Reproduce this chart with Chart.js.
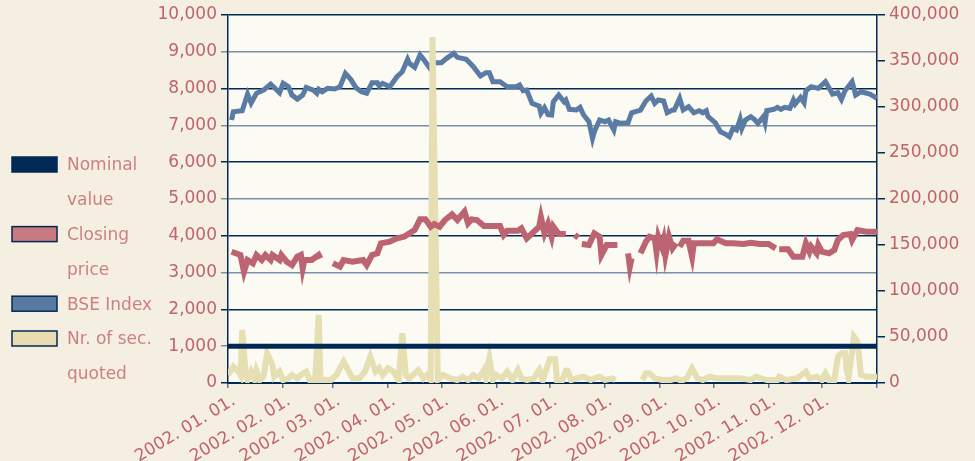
<!DOCTYPE html>
<html>
<head>
<meta charset="utf-8">
<script src="https://cdn.jsdelivr.net/npm/chart.js@4/dist/chart.umd.min.js"></script>
<style>
  html, body { margin: 0; padding: 0; background: #f5efe1; }
  #wrap { width: 975px; height: 461px; }
</style>
</head>
<body>
<div id="wrap"><canvas id="myChart" width="975" height="461"></canvas></div>
<script>
// x positions are day-of-year in 2002 (0 = Jan 1)
const monthStarts = [0, 31, 59, 90, 120, 151, 181, 212, 243, 273, 304, 334, 365];
const monthLabels = [
  "2002. 01. 01.", "2002. 02. 01.", "2002. 03. 01.", "2002. 04. 01.",
  "2002. 05. 01.", "2002. 06. 01.", "2002. 07. 01.", "2002. 08. 01.",
  "2002. 09. 01.", "2002. 10. 01.", "2002. 11. 01.", "2002. 12. 01.",
];

const legendLabels = [
  ["Nominal", "value"],
  ["Closing", "price"],
  ["BSE Index"],
  ["Nr. of sec.", "quoted"],
];

// Nominal value (left axis)
const nominalDays = [0, 365];
const nominalValues = [1000, 1000];

// BSE Index (left axis)
const bseDays = [2,3,8,11,13,16,20,24,29,31,
  34,36,39,42,44,48,50,51,53,56,
  60,63,66,69,72,75,78,81,84,85,
  87,91,95,98,101,102,105,108,110,114,
  115,120,123,127,129,134,138,142,145,147,
  149,153,157,162,164,166,168,171,175,176,
  178,180,182,183,186,189,190,192,196,198,
  200,203,205,206,209,212,214,217,218,221,
  225,227,232,235,238,240,242,245,247,250,
  251,254,256,259,262,265,267,269,270,274,
  277,280,282,284,286,288,289,291,294,296,
  298,301,302,303,307,309,311,313,316,318,
  319,322,324,325,328,332,336,340,343,345,
  347,351,353,356,361,365];
const bseValues = [7146,7372,7400,7852,7608,7871,7960,8124,7888,8143,
  8051,7825,7716,7825,8034,7960,7871,7980,7915,8007,
  7988,8051,8414,8251,8024,7915,7871,8160,8160,8070,
  8143,8051,8323,8458,8795,8686,8578,8912,8795,8523,
  8703,8703,8822,8958,8849,8795,8595,8341,8431,8431,
  8187,8187,8051,8051,8097,7942,7961,7599,7526,7328,
  7480,7290,7282,7644,7825,7644,7690,7437,7418,7491,
  7282,7100,6649,6828,7146,7100,7146,6874,7100,7056,
  7073,7344,7418,7662,7798,7599,7690,7662,7344,7418,
  7418,7735,7418,7508,7344,7400,7344,7400,7237,7073,
  6828,6757,6692,6920,6874,7164,6920,7146,7237,7164,
  7056,7237,7073,7400,7437,7491,7437,7491,7464,7690,
  7581,7762,7617,7942,8051,8007,8187,7852,7888,7708,
  7942,8187,7825,7915,7852,7735];

// Closing price (left axis), null = no trade
const closeDays = [2,7,9,11,14,16,19,21,24,25,
  29,30,33,36,39,41,42,43,47,51,
  52,55,59,63,65,70,76,78,81,84,
  86,91,95,99,102,105,108,111,114,116,
  119,122,126,129,133,135,137,140,144,153,
  155,157,163,165,168,172,175,176,178,180,
  182,183,186,190,192,195,197,198,199,203,
  206,209,210,213,219,222,225,226,227,229,
  232,235,237,240,241,242,244,245,246,248,
  250,252,253,254,256,259,261,262,267,273,
  275,280,284,290,294,299,304,308,309,310,
  315,318,323,325,327,328,331,332,334,338,
  341,343,346,350,351,354,359,365];
const closeValues = [3567,3478,3024,3342,3252,3478,3342,3478,3342,3478,
  3342,3478,3296,3206,3432,3478,3116,3342,3342,3478,
  3388,null,3252,3161,3342,3296,3342,3206,3478,3524,
  3796,3840,3931,3976,4066,4157,4448,4448,4248,4320,
  4248,4429,4584,4429,4655,4339,4448,4429,4266,4266,
  4021,4138,4138,4203,3931,4111,4248,4502,4066,4320,
  3976,4248,4048,4048,null,4030,3950,null,3777,3750,
  4066,3976,3478,3750,3750,null,3524,3161,3388,null,
  3524,3840,3976,3931,3567,3976,3704,3886,3478,3976,
  3660,3796,null,3704,3866,3866,3432,3796,3796,3796,
  3904,3796,3796,3777,3812,3777,3777,3660,null,3633,
  3633,3432,3432,3796,3567,3704,3524,3750,3567,3524,
  3614,3886,4021,4048,3886,4157,4111,4111];

// Nr. of securities quoted (right axis)
const quotedDays = [0,3,6,7,8,10,11,13,15,16,
  18,20,22,25,26,29,31,34,36,39,
  41,44,46,49,51,52,58,61,65,68,
  70,74,77,80,83,85,87,90,93,96,
  98,100,102,105,107,110,112,114,115,118,
  121,125,129,132,135,138,141,144,145,147,
  149,151,154,157,160,163,165,168,172,175,
  177,181,184,185,188,190,191,193,196,200,
  204,206,209,212,216,218,221,233,235,237,
  240,244,249,252,254,256,258,261,264,267,
  271,275,280,288,294,297,303,309,310,314,
  320,325,327,331,334,336,338,341,343,345,
  347,348,349,352,354,356,359,365];
const quotedValues = [8700,17700,12300,8700,57600,8700,3260,12300,3260,13400,
  3260,6800,32300,19600,6800,12300,3260,5100,8700,5100,
  8700,12300,3260,3260,73900,3260,3260,8700,23200,12300,
  5100,5100,12300,28600,12300,16000,8700,16000,12300,3260,
  54000,8700,5100,10500,14100,5100,8700,3260,376000,3260,
  8700,5100,3260,6800,3260,8700,5100,14100,5100,26800,
  3260,8700,5100,12300,3260,14100,5100,3260,5100,14100,
  3260,25800,25800,3260,3260,13400,13400,3260,5100,6800,
  3260,5100,6800,3260,5100,3260,null,3260,10500,10500,
  5100,3260,3260,5100,3260,3260,5100,16000,5100,3260,
  6800,5100,5100,5100,3260,6800,3260,3260,6800,3260,
  5100,12300,5100,6800,3260,10500,3260,3260,28600,32300,
  32300,14100,5100,50300,44900,8700,6800,6800];

const NAVY = "#002a55";
const GRID_LIGHT = "#7a90a8";
const TEXT = "#c0626f";

const pts = (days, vals) => days.map((d, i) => ({ x: d, y: vals[i] }));

// plot area background + custom left legend
const paper = {
  id: "paper",
  beforeDraw(chart) {
    const { ctx, chartArea: a } = chart;
    ctx.save();
    ctx.fillStyle = "#fbfaf3";
    ctx.fillRect(a.left, a.top, a.right - a.left, a.bottom - a.top);
    ctx.restore();
  },
  afterDraw(chart) {
    const ctx = chart.ctx;
    const boxes = [
      { fill: NAVY, border: NAVY },
      { fill: "#c87a80", border: NAVY },
      { fill: "#587aa0", border: NAVY },
      { fill: "#e8dcb0", border: NAVY },
    ];
    ctx.save();
    ctx.font = '17px "DejaVu Sans"';
    ctx.textBaseline = "middle";
    let line = 0;
    legendLabels.forEach((lines, i) => {
      const y = 166 + line * 34.8;
      ctx.fillStyle = boxes[i].fill;
      ctx.fillRect(12, y - 9, 45, 15);
      ctx.strokeStyle = boxes[i].border;
      ctx.lineWidth = 1.5;
      ctx.strokeRect(12, y - 9, 45, 15);
      ctx.fillStyle = "#cd7f85";
      lines.forEach((t, k) => ctx.fillText(t, 67, y + k * 34.8));
      line += lines.length;
    });
    ctx.restore();
  },
};

Chart.defaults.font.family = '"DejaVu Sans"';
Chart.defaults.font.size = 17;
Chart.defaults.color = TEXT;

const ctx = document.getElementById("myChart").getContext("2d");

const myChart = new Chart(ctx, {
  type: "line",
  data: {
    datasets: [
      {
        label: "Nominal value",
        data: pts(nominalDays, nominalValues),
        yAxisID: "y",
        borderColor: NAVY,
        borderWidth: 5,
        order: 1,
      },
      {
        label: "Closing price",
        data: pts(closeDays, closeValues),
        yAxisID: "y",
        borderColor: "#bd6472",
        borderWidth: 6,
        spanGaps: false,
        order: 2,
      },
      {
        label: "Nr. of sec. quoted",
        data: pts(quotedDays, quotedValues),
        yAxisID: "y2",
        borderColor: "#e6dfb4",
        borderWidth: 6,
        spanGaps: false,
        order: 3,
      },
      {
        label: "BSE Index",
        data: pts(bseDays, bseValues),
        yAxisID: "y",
        borderColor: "#5a7ba3",
        borderWidth: 5,
        order: 4,
      },
    ],
  },
  options: {
    responsive: false,
    animation: false,
    devicePixelRatio: 1,
    layout: { padding: { top: 15, left: 0, right: 0, bottom: 0 } },
    elements: {
      point: { radius: 0, hoverRadius: 0 },
      line: { tension: 0, fill: false },
    },
    plugins: {
      legend: { display: false },
      tooltip: { enabled: false },
    },
    scales: {
      x: {
        type: "linear",
        min: 0,
        max: 365,
        afterBuildTicks: (scale) => {
          scale.ticks = monthStarts.map((v) => ({ value: v }));
        },
        afterFit: (scale) => {
          scale.height = 78;
        },
        ticks: {
          autoSkip: false,
          minRotation: 31,
          maxRotation: 31,
          padding: 3,
          labelOffset: 6,
          callback: (value, index) => monthLabels[index] || "",
        },
        grid: {
          drawOnChartArea: false,
          color: "#5b7a9c",
          lineWidth: 1.5,
          tickLength: 5,
        },
        border: { display: true, color: NAVY, width: 2 },
      },
      y: {
        position: "left",
        min: 0,
        max: 10000,
        afterFit: (scale) => {
          scale.width = 228;
        },
        ticks: {
          stepSize: 1000,
          padding: 4,
          callback: (v) => v.toLocaleString("en-US"),
        },
        grid: {
          color: (c) => (c.tick && c.tick.value % 2000 === 0 ? NAVY : GRID_LIGHT),
          lineWidth: 1.5,
          tickLength: 7,
        },
        border: { display: true, color: NAVY, width: 1.5 },
      },
      y2: {
        position: "right",
        min: 0,
        max: 400000,
        afterFit: (scale) => {
          scale.width = 98;
        },
        ticks: {
          stepSize: 50000,
          padding: 4,
          callback: (v) => v.toLocaleString("en-US"),
        },
        grid: {
          drawOnChartArea: false,
          color: NAVY,
          lineWidth: 1.5,
          tickLength: 8,
        },
        border: { display: true, color: NAVY, width: 1.5 },
      },
    },
  },
  plugins: [paper],
});
</script>
</body>
</html>
